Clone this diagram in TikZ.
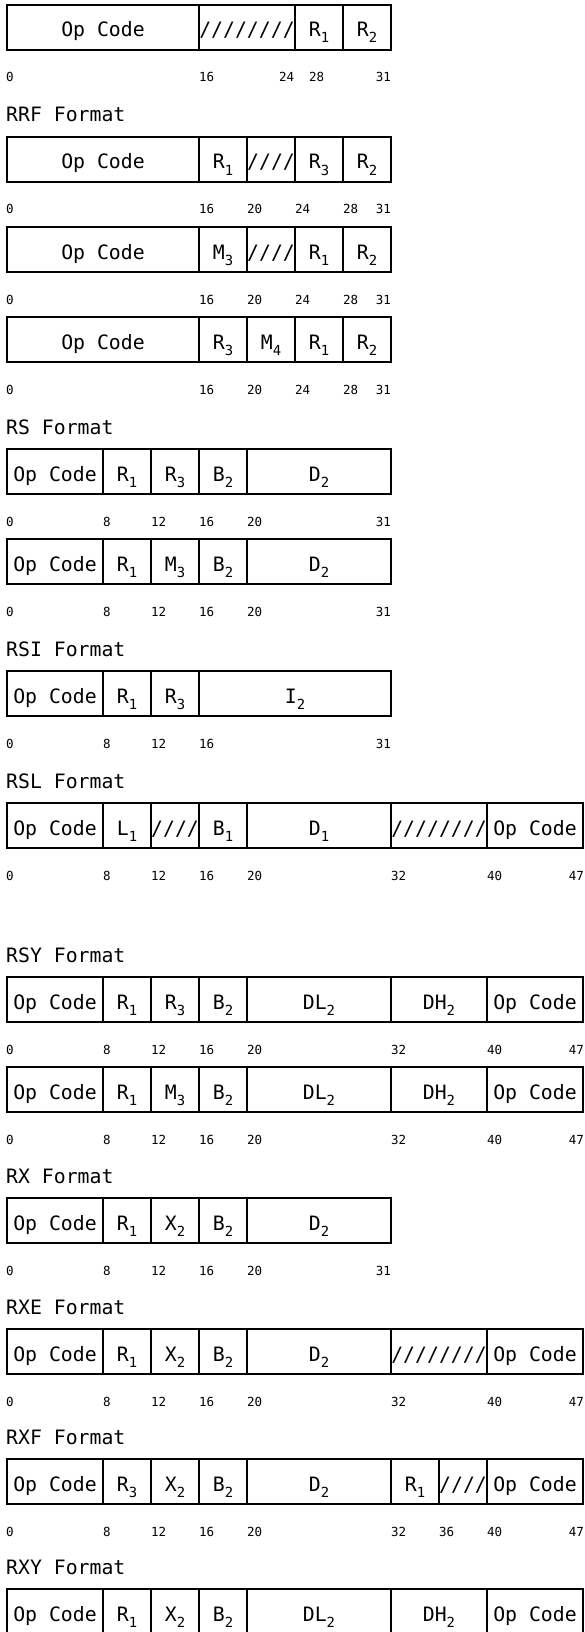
\documentclass[tikz,border=0pt]{standalone}
\usepackage{fontspec}
\usetikzlibrary{positioning}
\newfontfamily\monofam{DejaVu Sans Mono}
\newcommand{\fieldfont}{\monofam\fontsize{19.8}{22}\selectfont}
\newcommand{\bitnofont}{\monofam\fontsize{12.5}{14}\selectfont}
\newcommand{\fsub}[1]{\raisebox{-6pt}{\monofam\fontsize{13.9}{15}\selectfont #1}}

\begin{document}
\begin{tikzpicture}[x=1pt, y=-1pt,
        field/.style={draw, line width=2pt, inner sep=0pt, outer sep=0pt,
          minimum height=45pt, minimum width=#1*12pt,
          text height=19pt, text depth=0pt, font=\fieldfont},
        first/.style={anchor=north west},
        bitno/.style={anchor=base west, inner sep=0pt, font=\bitnofont},
        lastbit/.style={anchor=base east, inner sep=0pt, font=\bitnofont},
        fmttitle/.style={anchor=base west, inner sep=0pt, font=\fieldfont}]
      \useasboundingbox (0,0) rectangle (584,1632);
      \clip (0,0) rectangle (584,1632);
      % RR
      \node[field=16, first] (a-op) at (7,5) {Op Code};
      \node[field=8, right=0pt of a-op] (a-pad) {////////};
      \node[field=4, right=0pt of a-pad] (a-r1) {R\fsub{1}};
      \node[field=4, right=0pt of a-r1] (a-r2) {R\fsub{2}};
      \node[bitno] (a-b0) at (6,82) {0};
      \node[bitno] (a-b16) at (199,82) {16};
      \node[bitno] (a-b24) at (279,82) {24};
      \node[bitno] (a-b28) at (309,82) {28};
      \node[lastbit] (a-b31) at (391,82) {31};
      % RRF
      \node[fmttitle] (rrf) at (6,122) {RRF Format};
      \node[field=16, first] (b-op) at (7,137) {Op Code};
      \node[field=4, right=0pt of b-op] (b-r1) {R\fsub{1}};
      \node[field=4, right=0pt of b-r1] (b-pad) {////};
      \node[field=4, right=0pt of b-pad] (b-r3) {R\fsub{3}};
      \node[field=4, right=0pt of b-r3] (b-r2) {R\fsub{2}};
      \node[bitno] (b-b0) at (6,214) {0};
      \foreach \b in {16,20,24,28}
        \node[bitno] (b-b\b) at (7+12*\b,214) {\b};
      \node[lastbit] (b-b31) at (391,214) {31};
      \node[field=16, first] (c-op) at (7,227) {Op Code};
      \node[field=4, right=0pt of c-op] (c-m3) {M\fsub{3}};
      \node[field=4, right=0pt of c-m3] (c-pad) {////};
      \node[field=4, right=0pt of c-pad] (c-r1) {R\fsub{1}};
      \node[field=4, right=0pt of c-r1] (c-r2) {R\fsub{2}};
      \node[bitno] (c-b0) at (6,304) {0};
      \foreach \b in {16,20,24,28}
        \node[bitno] (c-b\b) at (7+12*\b,304) {\b};
      \node[lastbit] (c-b31) at (391,304) {31};
      \node[field=16, first] (d-op) at (7,317) {Op Code};
      \node[field=4, right=0pt of d-op] (d-r3) {R\fsub{3}};
      \node[field=4, right=0pt of d-r3] (d-m4) {M\fsub{4}};
      \node[field=4, right=0pt of d-m4] (d-r1) {R\fsub{1}};
      \node[field=4, right=0pt of d-r1] (d-r2) {R\fsub{2}};
      \node[bitno] (d-b0) at (6,394) {0};
      \foreach \b in {16,20,24,28}
        \node[bitno] (d-b\b) at (7+12*\b,394) {\b};
      \node[lastbit] (d-b31) at (391,394) {31};
      % RS
      \node[fmttitle] (rs) at (6,434) {RS Format};
      \node[field=8, first] (e-op) at (7,449) {Op Code};
      \node[field=4, right=0pt of e-op] (e-r1) {R\fsub{1}};
      \node[field=4, right=0pt of e-r1] (e-r3) {R\fsub{3}};
      \node[field=4, right=0pt of e-r3] (e-b2) {B\fsub{2}};
      \node[field=12, right=0pt of e-b2] (e-d2) {D\fsub{2}};
      \node[bitno] (e-b0) at (6,526) {0};
      \foreach \b in {8,12,16,20}
        \node[bitno] (e-b\b) at (7+12*\b,526) {\b};
      \node[lastbit] (e-b31) at (391,526) {31};
      \node[field=8, first] (f-op) at (7,539) {Op Code};
      \node[field=4, right=0pt of f-op] (f-r1) {R\fsub{1}};
      \node[field=4, right=0pt of f-r1] (f-m3) {M\fsub{3}};
      \node[field=4, right=0pt of f-m3] (f-b2) {B\fsub{2}};
      \node[field=12, right=0pt of f-b2] (f-d2) {D\fsub{2}};
      \node[bitno] (f-b0) at (6,616) {0};
      \foreach \b in {8,12,16,20}
        \node[bitno] (f-b\b) at (7+12*\b,616) {\b};
      \node[lastbit] (f-b31) at (391,616) {31};
      % RSI
      \node[fmttitle] (rsi) at (6,656) {RSI Format};
      \node[field=8, first] (g-op) at (7,671) {Op Code};
      \node[field=4, right=0pt of g-op] (g-r1) {R\fsub{1}};
      \node[field=4, right=0pt of g-r1] (g-r3) {R\fsub{3}};
      \node[field=16, right=0pt of g-r3] (g-i2) {I\fsub{2}};
      \node[bitno] (g-b0) at (6,748) {0};
      \foreach \b in {8,12,16}
        \node[bitno] (g-b\b) at (7+12*\b,748) {\b};
      \node[lastbit] (g-b31) at (391,748) {31};
      % RSL
      \node[fmttitle] (rsl) at (6,788) {RSL Format};
      \node[field=8, first] (h-op) at (7,803) {Op Code};
      \node[field=4, right=0pt of h-op] (h-l1) {L\fsub{1}};
      \node[field=4, right=0pt of h-l1] (h-pad) {////};
      \node[field=4, right=0pt of h-pad] (h-b1) {B\fsub{1}};
      \node[field=12, right=0pt of h-b1] (h-d1) {D\fsub{1}};
      \node[field=8, right=0pt of h-d1] (h-pad2) {////////};
      \node[field=8, right=0pt of h-pad2] (h-op2) {Op Code};
      \node[bitno] (h-b0) at (6,880) {0};
      \foreach \b in {8,12,16,20,32,40}
        \node[bitno] (h-b\b) at (7+12*\b,880) {\b};
      \node[lastbit] (h-b47) at (584,880) {47};
      % RSY
      \node[fmttitle] (rsy) at (6,962) {RSY Format};
      \node[field=8, first] (i-op) at (7,977) {Op Code};
      \node[field=4, right=0pt of i-op] (i-r1) {R\fsub{1}};
      \node[field=4, right=0pt of i-r1] (i-r3) {R\fsub{3}};
      \node[field=4, right=0pt of i-r3] (i-b2) {B\fsub{2}};
      \node[field=12, right=0pt of i-b2] (i-dl2) {DL\fsub{2}};
      \node[field=8, right=0pt of i-dl2] (i-dh2) {DH\fsub{2}};
      \node[field=8, right=0pt of i-dh2] (i-op2) {Op Code};
      \node[bitno] (i-b0) at (6,1054) {0};
      \foreach \b in {8,12,16,20,32,40}
        \node[bitno] (i-b\b) at (7+12*\b,1054) {\b};
      \node[lastbit] (i-b47) at (584,1054) {47};
      \node[field=8, first] (j-op) at (7,1067) {Op Code};
      \node[field=4, right=0pt of j-op] (j-r1) {R\fsub{1}};
      \node[field=4, right=0pt of j-r1] (j-m3) {M\fsub{3}};
      \node[field=4, right=0pt of j-m3] (j-b2) {B\fsub{2}};
      \node[field=12, right=0pt of j-b2] (j-dl2) {DL\fsub{2}};
      \node[field=8, right=0pt of j-dl2] (j-dh2) {DH\fsub{2}};
      \node[field=8, right=0pt of j-dh2] (j-op2) {Op Code};
      \node[bitno] (j-b0) at (6,1144) {0};
      \foreach \b in {8,12,16,20,32,40}
        \node[bitno] (j-b\b) at (7+12*\b,1144) {\b};
      \node[lastbit] (j-b47) at (584,1144) {47};
      % RX
      \node[fmttitle] (rx) at (6,1183) {RX Format};
      \node[field=8, first] (k-op) at (7,1198) {Op Code};
      \node[field=4, right=0pt of k-op] (k-r1) {R\fsub{1}};
      \node[field=4, right=0pt of k-r1] (k-x2) {X\fsub{2}};
      \node[field=4, right=0pt of k-x2] (k-b2) {B\fsub{2}};
      \node[field=12, right=0pt of k-b2] (k-d2) {D\fsub{2}};
      \node[bitno] (k-b0) at (6,1275) {0};
      \foreach \b in {8,12,16,20}
        \node[bitno] (k-b\b) at (7+12*\b,1275) {\b};
      \node[lastbit] (k-b31) at (391,1275) {31};
      % RXE
      \node[fmttitle] (rxe) at (6,1314) {RXE Format};
      \node[field=8, first] (l-op) at (7,1329) {Op Code};
      \node[field=4, right=0pt of l-op] (l-r1) {R\fsub{1}};
      \node[field=4, right=0pt of l-r1] (l-x2) {X\fsub{2}};
      \node[field=4, right=0pt of l-x2] (l-b2) {B\fsub{2}};
      \node[field=12, right=0pt of l-b2] (l-d2) {D\fsub{2}};
      \node[field=8, right=0pt of l-d2] (l-pad) {////////};
      \node[field=8, right=0pt of l-pad] (l-op2) {Op Code};
      \node[bitno] (l-b0) at (6,1406) {0};
      \foreach \b in {8,12,16,20,32,40}
        \node[bitno] (l-b\b) at (7+12*\b,1406) {\b};
      \node[lastbit] (l-b47) at (584,1406) {47};
      % RXF
      \node[fmttitle] (rxf) at (6,1444) {RXF Format};
      \node[field=8, first] (m-op) at (7,1459) {Op Code};
      \node[field=4, right=0pt of m-op] (m-r3) {R\fsub{3}};
      \node[field=4, right=0pt of m-r3] (m-x2) {X\fsub{2}};
      \node[field=4, right=0pt of m-x2] (m-b2) {B\fsub{2}};
      \node[field=12, right=0pt of m-b2] (m-d2) {D\fsub{2}};
      \node[field=4, right=0pt of m-d2] (m-r1) {R\fsub{1}};
      \node[field=4, right=0pt of m-r1] (m-pad) {////};
      \node[field=8, right=0pt of m-pad] (m-op2) {Op Code};
      \node[bitno] (m-b0) at (6,1536) {0};
      \foreach \b in {8,12,16,20,32,36,40}
        \node[bitno] (m-b\b) at (7+12*\b,1536) {\b};
      \node[lastbit] (m-b47) at (584,1536) {47};
      % RXY
      \node[fmttitle] (rxy) at (6,1574) {RXY Format};
      \node[field=8, first] (n-op) at (7,1589) {Op Code};
      \node[field=4, right=0pt of n-op] (n-r1) {R\fsub{1}};
      \node[field=4, right=0pt of n-r1] (n-x2) {X\fsub{2}};
      \node[field=4, right=0pt of n-x2] (n-b2) {B\fsub{2}};
      \node[field=12, right=0pt of n-b2] (n-dl2) {DL\fsub{2}};
      \node[field=8, right=0pt of n-dl2] (n-dh2) {DH\fsub{2}};
      \node[field=8, right=0pt of n-dh2] (n-op2) {Op Code};
    \end{tikzpicture}
\end{document}
